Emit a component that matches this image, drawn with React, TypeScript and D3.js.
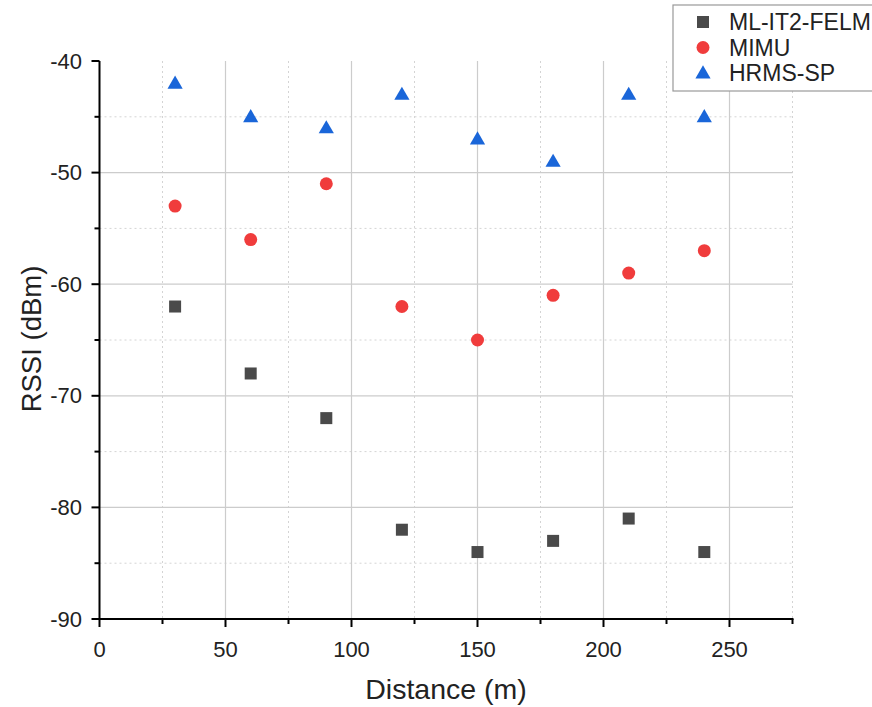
import React from "react";
import * as d3 from "d3";

const distances = [30, 60, 90, 120, 150, 180, 210, 240];
const mlIt2Felm = [-62, -68, -72, -82, -84, -83, -81, -84];
const mimu = [-53, -56, -51, -62, -65, -61, -59, -57];
const hrmsSp = [-42, -45, -46, -43, -47, -49, -43, -45];
const xTicks = [0, 50, 100, 150, 200, 250];
const yTicks = [-90, -80, -70, -60, -50, -40];
const seriesNames = ["ML-IT2-FELM", "MIMU", "HRMS-SP"];

const W = 872, H = 707;
const L = 99.5, R = 792.5, T = 61, B = 619;
const FONT = "Arial, 'Liberation Sans', Helvetica, sans-serif";

export default function App() {
  const x = d3.scaleLinear().domain([0, 275]).range([L, R]);
  const y = d3.scaleLinear().domain([-90, -40]).range([B, T]);
  const xMinor = d3.range(25, 276, 50);
  const yMinor = d3.range(-85, -40, 10);
  const colors = ["#4a4a4a", "#f03c3c", "#1a66d9"];
  const tri = d3.symbol().type(d3.symbolTriangle).size(100)();
  const series = [mlIt2Felm, mimu, hrmsSp];

  const marker = (k: number, cx: number, cy: number, key: string) => {
    if (k === 0) return <rect key={key} x={cx - 6} y={cy - 6} width={12} height={12} fill={colors[0]} />;
    if (k === 1) return <circle key={key} cx={cx} cy={cy} r={6.5} fill={colors[1]} />;
    return <path key={key} d={tri as string} transform={`translate(${cx},${cy + 1})`} fill={colors[2]} />;
  };

  return (
    <svg width={W} height={H} style={{ position: "absolute", left: 0, top: 0, background: "#fff" }} fontFamily={FONT}>
      {/* grid */}
      {xMinor.map((v) => (
        <line key={"xm" + v} x1={x(v)} x2={x(v)} y1={T} y2={B} stroke="#d4d4d4" strokeWidth={1} strokeDasharray="2,3" />
      ))}
      {yMinor.map((v) => (
        <line key={"ym" + v} x1={L} x2={R} y1={y(v)} y2={y(v)} stroke="#d4d4d4" strokeWidth={1} strokeDasharray="2,3" />
      ))}
      {xTicks.filter((v) => v > 0).map((v) => (
        <line key={"xg" + v} x1={x(v)} x2={x(v)} y1={T} y2={B} stroke="#cccccc" strokeWidth={1.2} />
      ))}
      {yTicks.filter((v) => v > -90 && v < -40).map((v) => (
        <line key={"yg" + v} x1={L} x2={R} y1={y(v)} y2={y(v)} stroke="#cccccc" strokeWidth={1.2} />
      ))}
      {/* axes */}
      <line x1={L} x2={R + 1} y1={B} y2={B} stroke="#000" strokeWidth={2} />
      <line x1={L} x2={L} y1={T} y2={B + 1} stroke="#000" strokeWidth={2} />
      {xTicks.map((v) => (
        <g key={"xt" + v}>
          <line x1={x(v)} x2={x(v)} y1={B} y2={B + 8} stroke="#000" strokeWidth={2} />
          <text x={x(v)} y={657} textAnchor="middle" fontSize={22} fill="#222">{v}</text>
        </g>
      ))}
      {xMinor.map((v) => (
        <line key={"xmt" + v} x1={x(v)} x2={x(v)} y1={B} y2={B + 5} stroke="#000" strokeWidth={2} />
      ))}
      {yTicks.map((v) => (
        <g key={"yt" + v}>
          <line x1={L - 8} x2={L} y1={y(v)} y2={y(v)} stroke="#000" strokeWidth={2} />
          <text x={82} y={y(v) + 7.5} textAnchor="end" fontSize={22} fill="#222">{v}</text>
        </g>
      ))}
      {yMinor.map((v) => (
        <line key={"ymt" + v} x1={L - 5} x2={L} y1={y(v)} y2={y(v)} stroke="#000" strokeWidth={2} />
      ))}
      {/* labels */}
      <text x={446} y={699} textAnchor="middle" fontSize={28.5} fill="#222">Distance (m)</text>
      <text transform="translate(41,339) rotate(-90)" textAnchor="middle" fontSize={27.5} fill="#222">RSSI (dBm)</text>
      {/* data */}
      {series.map((s, k) => (
        <g key={"s" + k}>{s.map((v, i) => marker(k, x(distances[i]), y(v), `p${k}-${i}`))}</g>
      ))}
      {/* legend */}
      <rect x={673} y={5} width={210} height={86} fill="#fff" stroke="#999" strokeWidth={1.2} />
      {seriesNames.map((n, k) => (
        <g key={"lg" + k}>
          {marker(k, 703, 22 + k * 25.5, "lm" + k)}
          <text x={729} y={30 + k * 25.5} fontSize={23} fill="#222">{n}</text>
        </g>
      ))}
    </svg>
  );
}
